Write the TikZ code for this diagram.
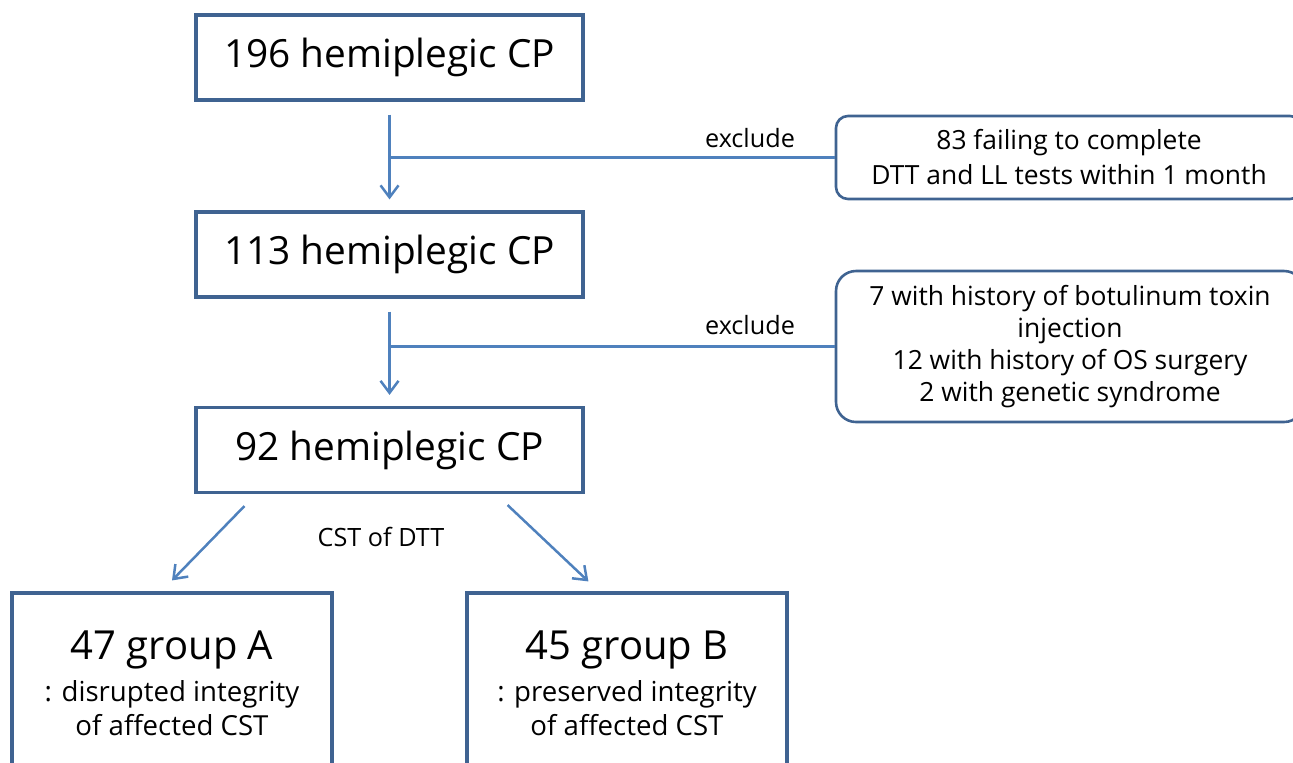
\documentclass[tikz,border=0pt]{standalone}
\usepackage{fontspec}
\setmainfont{Open Sans}
\usetikzlibrary{arrows.meta}
\definecolor{boxc}{HTML}{3F6391}
\definecolor{linec}{HTML}{4F81BD}
\begin{document}
\begin{tikzpicture}[x=0.5pt,y=-0.5pt,
  mainbox/.style={draw=boxc, line width=1.6pt, minimum width=193.5pt, minimum height=42.5pt, inner sep=0pt, font=\fontsize{19.4}{23}\selectfont},
  exbox/.style={draw=boxc, line width=1.3pt, inner sep=0pt, align=center},
  grpbox/.style={draw=boxc, line width=1.6pt, minimum width=160pt, minimum height=90pt, inner sep=0pt, align=center, font=\fontsize{13.8}{17}\selectfont},
  conn/.style={draw=linec, line width=1.25pt},
  arr/.style={conn, -{Straight Barb[length=6pt,width=9pt,line width=1.25pt]}},
  lbl/.style={inner sep=0pt, font=\fontsize{12.6}{15}\selectfont}]
\useasboundingbox (0,0) rectangle (1293,762);
\clip (0,0) rectangle (1293,762);
\node[mainbox] (n1) at (389.5,57.5) {196 hemiplegic CP};
\node[mainbox] (n2) at (389.5,254.5) {113 hemiplegic CP};
\node[mainbox] (n3) at (389.5,450) {92 hemiplegic CP};
\node[exbox, rounded corners=6pt, minimum width=233pt, minimum height=41.5pt, font=\fontsize{13.2}{17.5}\selectfont] (ex1) at (1069,157.5)
  {83 failing to complete\\DTT and LL tests within 1 month};
\node[exbox, rounded corners=10pt, minimum width=234pt, minimum height=75.5pt, font=\fontsize{13.2}{16}\selectfont] (ex2) at (1070,346.5)
  {7 with history of botulinum toxin\\injection\\12 with history of OS surgery\\2 with genetic syndrome};
\node[grpbox] (gA) at (172,683)
  {{\fontsize{20}{24}\selectfont 47 group A}\\[4pt]: disrupted integrity\\of affected CST};
\node[grpbox] (gB) at (627,683)
  {{\fontsize{20}{24}\selectfont 45 group B}\\[4pt]: preserved integrity\\of affected CST};
\node[lbl] (x1) at (750,138) {exclude};
\node[lbl] (x2) at (750,325) {exclude};
\node[lbl] (c1) at (381,537) {CST of DTT};
\draw[arr, shorten <=6.5pt, shorten >=5.5pt] (n1) -- (n2);
\draw[arr, shorten <=6.5pt, shorten >=5.5pt] (n2) -- (n3);
\draw[conn] (ex1.west) -- (ex1.west -| n1.center);
\draw[conn] (ex2.west) -- (ex2.west -| n2.center);
\draw[arr] ([xshift=25pt,yshift=-6pt]n3.south west) -- ([yshift=5.5pt]gA.north);
\draw[arr] ([xshift=-38.5pt,yshift=-5.5pt]n3.south east) -- ([xshift=61.5pt,yshift=5pt]gB.north west);
\end{tikzpicture}
\end{document}
